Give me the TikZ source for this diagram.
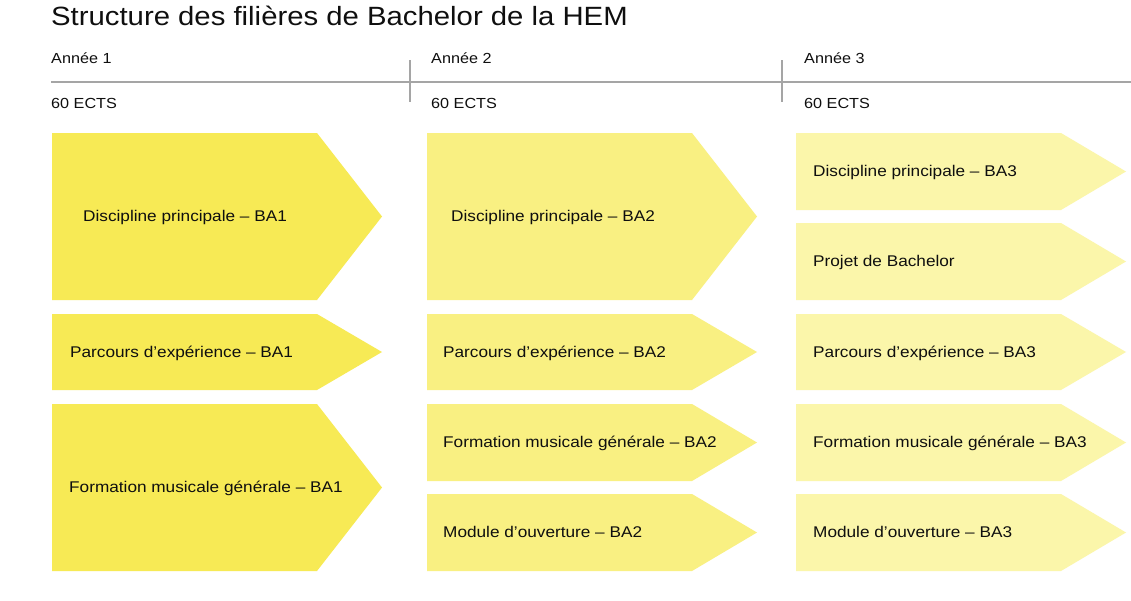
\documentclass[tikz,border=0pt]{standalone}
\usepackage{fontspec}
\setmainfont{Liberation Sans}[FakeStretch=1.11]
\definecolor{yA}{RGB}{247,234,85}
\definecolor{yB}{RGB}{249,240,130}
\definecolor{yC}{RGB}{251,246,170}
\definecolor{rulegray}{RGB}{165,165,165}
\definecolor{txt}{RGB}{15,15,15}
\newcommand\hemarrow[7]{%
  \fill[#5] (#2,#3) -- ({#2+265},#3) -- ({#2+330},{(#3+#4)/2}) -- ({#2+265},#4) -- (#2,#4) -- cycle;
  \node[lbl] (#1) at (#6,{(#3+#4)/2+5}) {#7};
}
\begin{document}
\begin{tikzpicture}[x=1pt,y=-1pt,
  lbl/.style={anchor=base west, inner sep=0, font=\fontsize{15.5}{18}\selectfont, text=txt},
  hdr/.style={anchor=base west, inner sep=0, font=\fontsize{14.6}{18}\selectfont, text=txt},
  ttl/.style={anchor=base west, inner sep=0, font=\fontsize{26.4}{30}\selectfont, text=txt},
  rulestyle/.style={draw=rulegray, line width=1.3pt}]
\useasboundingbox (0,0) rectangle (1131,600);
\fill[white] (0,0) rectangle (1131,600);
\node[ttl] (title) at (51,25) {Structure des filières de Bachelor de la HEM};
\node[hdr] (y1) at (51,63) {Année 1};
\node[hdr] (y2) at (431,63) {Année 2};
\node[hdr] (y3) at (804,63) {Année 3};
\node[hdr] (e1) at (51,108) {60 ECTS};
\node[hdr] (e2) at (431,108) {60 ECTS};
\node[hdr] (e3) at (804,108) {60 ECTS};
\draw[rulestyle] (51,82) -- (1131,82);
\draw[rulestyle] (410,60) -- (410,102);
\draw[rulestyle] (782,60) -- (782,102);
% column 1
\hemarrow{a1}{52}{133}{300}{yA}{83}{Discipline principale – BA1}
\hemarrow{a2}{52}{314}{390}{yA}{70}{Parcours d’expérience – BA1}
\hemarrow{a3}{52}{404}{571}{yA}{69}{Formation musicale générale – BA1}
% column 2
\hemarrow{b1}{427}{133}{300}{yB}{451}{Discipline principale – BA2}
\hemarrow{b2}{427}{314}{390}{yB}{443}{Parcours d’expérience – BA2}
\hemarrow{b3}{427}{404}{481}{yB}{443}{Formation musicale générale – BA2}
\hemarrow{b4}{427}{494}{571}{yB}{443}{Module d’ouverture – BA2}
% column 3
\hemarrow{c1}{796}{133}{210}{yC}{813}{Discipline principale – BA3}
\hemarrow{c2}{796}{223}{300}{yC}{813}{Projet de Bachelor}
\hemarrow{c3}{796}{314}{390}{yC}{813}{Parcours d’expérience – BA3}
\hemarrow{c4}{796}{404}{481}{yC}{813}{Formation musicale générale – BA3}
\hemarrow{c5}{796}{494}{571}{yC}{813}{Module d’ouverture – BA3}
\end{tikzpicture}
\end{document}
